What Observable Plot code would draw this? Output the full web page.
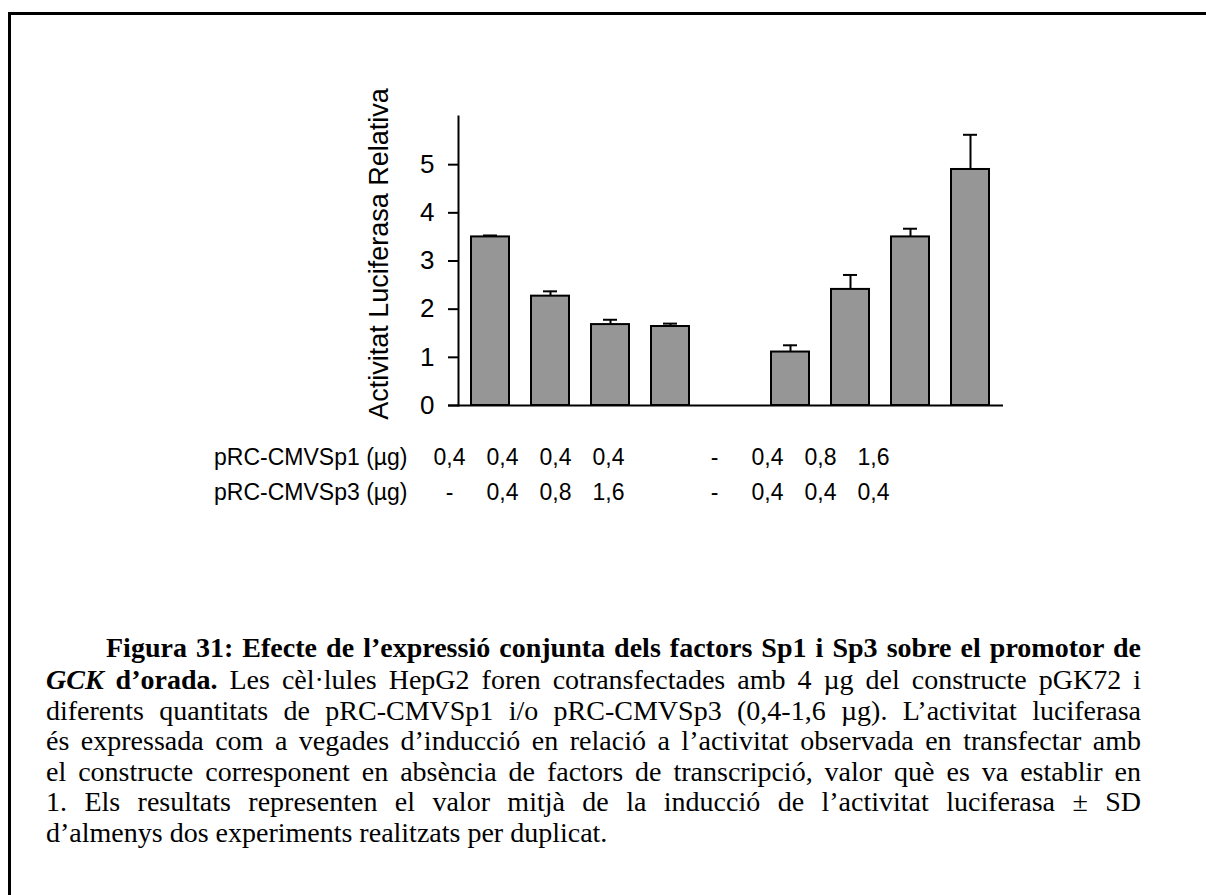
<!DOCTYPE html>
<html><head><meta charset="utf-8">
<script src="https://cdn.jsdelivr.net/npm/d3@7"></script>
<script src="https://cdn.jsdelivr.net/npm/@observablehq/plot@0.6"></script>
<style>
html,body{margin:0;padding:0;background:#fff;}
body{width:1206px;height:895px;overflow:hidden;position:relative;font-family:"Liberation Sans",Arial,sans-serif;color:#000;}
#frame{position:absolute;left:8px;top:12px;width:1400px;height:1100px;border-left:3px solid #000;border-top:3px solid #000;box-sizing:border-box;}
#chart{position:absolute;left:0;top:0;}
#labels{position:absolute;left:0;top:420px;}
#caption{position:absolute;left:46px;top:633px;width:1095px;font-family:"Liberation Serif","Times New Roman",serif;font-size:28px;line-height:30.6px;color:#000;}
#caption .ln{text-align:justify;text-align-last:justify;white-space:nowrap;}
#caption .first{text-indent:60px;margin-bottom:1.5px;}
#caption .last{text-align-last:left;}
</style></head>
<body>
<div id="frame"></div>
<div id="chart"></div>
<div id="labels"></div>
<div id="caption">
<div class="ln first"><b>Figura 31: Efecte de l’expressió conjunta dels factors Sp1 i Sp3 sobre el promotor de</b></div>
<div class="ln"><b><i>GCK</i> d’orada.</b> Les cèl·lules HepG2 foren cotransfectades amb 4 µg del constructe pGK72 i</div>
<div class="ln">diferents quantitats de pRC-CMVSp1 i/o pRC-CMVSp3 (0,4-1,6 µg). L’activitat luciferasa</div>
<div class="ln">és expressada com a vegades d’inducció en relació a l’activitat observada en transfectar amb</div>
<div class="ln">el constructe corresponent en absència de factors de transcripció, valor què es va establir en</div>
<div class="ln">1. Els resultats representen el valor mitjà de la inducció de l’activitat luciferasa ± SD</div>
<div class="ln last">d’almenys dos experiments realitzats per duplicat.</div>
</div>
<script>
const conditions = ["c1","c2","c3","c4","c5","c6","c7","c8"];
const slots = ["c1","c2","c3","c4","gap","c5","c6","c7","c8"];
const activity = [3.50, 2.27, 1.68, 1.64, 1.11, 2.41, 3.50, 4.90];
const sd = [0.03, 0.10, 0.10, 0.06, 0.14, 0.30, 0.17, 0.72];
const sp1 = ["0,4","0,4","0,4","0,4","-","0,4","0,8","1,6"];
const sp3 = ["-","0,4","0,8","1,6","-","0,4","0,4","0,4"];
const rowLabels = ["pRC-CMVSp1 (µg)","pRC-CMVSp3 (µg)"];
const yTicks = [0,1,2,3,4,5];
const yLabel = "Activitat Luciferasa Relativa";

const FONT = '"Liberation Sans", Arial, sans-serif';
const rows = conditions.map((c,i)=>({cond:c, value:activity[i], top:activity[i]+sd[i]}));

const chart = Plot.plot({
  width:1206, height:420,
  marginLeft:458, marginRight:203, marginTop:116, marginBottom:15,
  x:{domain:slots, paddingInner:0.36, paddingOuter:0.18, axis:null},
  y:{domain:[0,6], axis:null},
  style:{fontFamily:FONT, color:"#000", background:"transparent", overflow:"visible"},
  marks:[
    Plot.ruleX(rows,{x:"cond", y1:"value", y2:"top", stroke:"#000", strokeWidth:2}),
    Plot.tickY(rows,{x:"cond", y:"top", stroke:"#000", strokeWidth:2, insetLeft:12, insetRight:12}),
    Plot.barY(rows,{x:"cond", y:"value", fill:"#969696", stroke:"#000", strokeWidth:2}),
    Plot.axisY({ticks:yTicks, tickFormat:d3.format("d"), tickSize:10, tickPadding:14, fontSize:26, label:null, strokeWidth:2}),
    Plot.frame({anchor:"left", stroke:"#000", strokeWidth:2}),
    Plot.ruleY([0],{insetLeft:-10, stroke:"#000", strokeWidth:2}),
    Plot.text([yLabel],{frameAnchor:"left", textAnchor:"middle", rotate:-90, dx:-79, dy:-7, fontSize:27, text:d=>d, fill:"#000"})
  ]
});
document.getElementById("chart").appendChild(chart);

const labelData = [];
conditions.forEach((c,i)=>{
  labelData.push({slot:c,row:rowLabels[0],text:sp1[i]});
  labelData.push({slot:c,row:rowLabels[1],text:sp3[i]});
});
const labels = Plot.plot({
  width:1206, height:100, marginLeft:449, marginRight:333, marginTop:0, marginBottom:0,
  x:{type:"point", domain:slots, padding:0, axis:null},
  y:{type:"point", domain:rowLabels, range:[37, 72], padding:0, axis:null},
  style:{fontFamily:FONT, color:"#000", background:"transparent", overflow:"visible"},
  marks:[
    Plot.text(labelData,{x:"slot", y:"row", text:"text", fontSize:23, fill:"#000"}),
    Plot.axisY({tickSize:0, tickPadding:42, fontSize:23, label:null})
  ]
});
document.getElementById("labels").appendChild(labels);
</script>
</body></html>
